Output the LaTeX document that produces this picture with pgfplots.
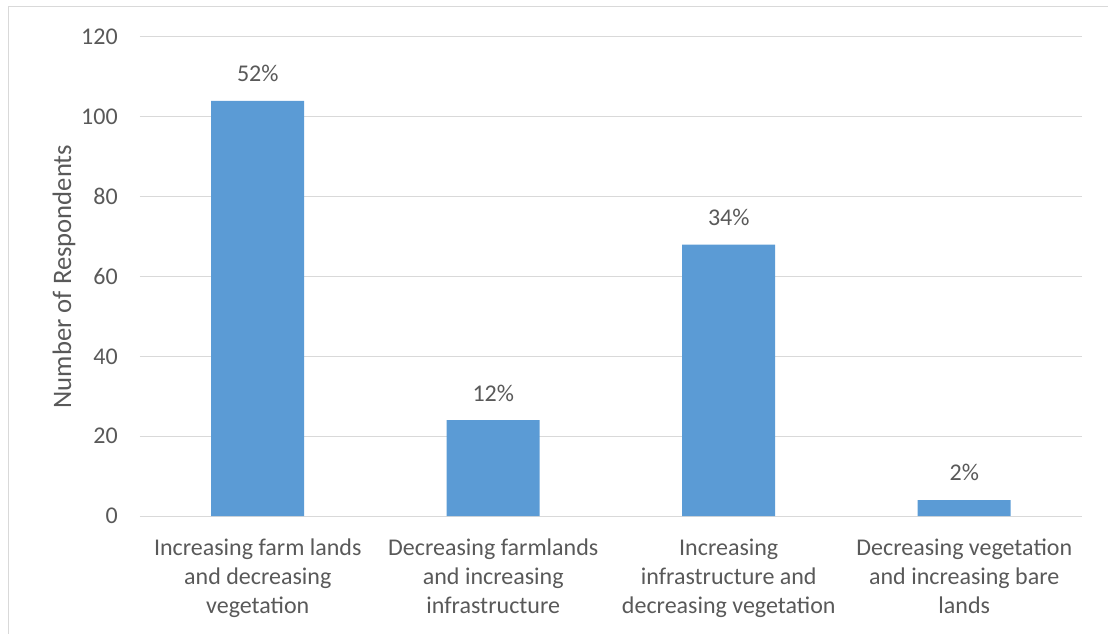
\documentclass[border=0pt]{standalone}
\usepackage{fontspec}
\setmainfont{Carlito}
\usepackage{pgfplots}
\pgfplotsset{compat=1.18}
\definecolor{barblue}{HTML}{5B9BD5}
\definecolor{txt}{HTML}{595959}
\definecolor{gridc}{HTML}{D9D9D9}
\begin{document}
\begin{tikzpicture}
\begin{axis}[
 at={(105pt,87.75pt)}, anchor=south west,
 scale only axis, width=706.5pt, height=359.25pt,
 xmin=-0.5, xmax=3.5, ymin=0, ymax=120,
 ytick={0,20,...,120},
 xtick={0,1,2,3},
 xticklabels={{Increasing farm lands\\and decreasing\\vegetation},{Decreasing farmlands\\and increasing\\infrastructure},{Increasing\\infrastructure and\\decreasing vegetation},{Decreasing vegetation\\and increasing bare\\lands}},
 axis line style={draw=none},
 ymajorgrids, major grid style={gridc, line width=0.75pt},
 major tick length=0pt,
 tick label style={font=\fontsize{18}{21.9}\selectfont, text=txt},
 yticklabel style={anchor=east, inner sep=0pt, xshift=-16.5pt},
 xticklabel style={anchor=north, inner sep=0pt, yshift=-17pt, align=center},
 ylabel={Number of Respondents},
 ylabel style={at={(rel axis cs:0,0.5)}, anchor=center, yshift=57pt, font=\fontsize{20}{24}\selectfont, text=txt},
 /pgf/number format/assume math mode=true,
 ybar, bar width=69.75pt,
 nodes near coords, point meta=explicit symbolic,
 nodes near coords style={font=\fontsize{18}{21.9}\selectfont, text=txt, inner sep=0pt, anchor=south, yshift=14pt},
]
\addplot[fill=barblue, draw=none] coordinates {(0,104) [52\%] (1,24) [12\%] (2,68) [34\%] (3,4) [2\%]};
\end{axis}
\draw[gridc, line width=0.75pt] (6pt,-20pt) rectangle (850pt,469.5pt);
\pgfresetboundingbox
\path[use as bounding box] (0,0) rectangle (831pt,474.75pt);
\end{tikzpicture}
\end{document}
